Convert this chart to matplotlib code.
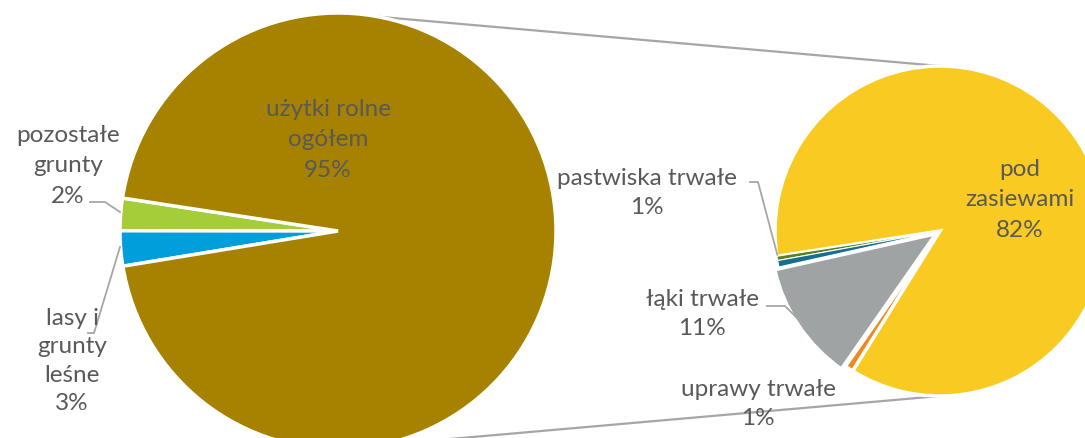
import matplotlib.pyplot as plt
import numpy as np

# share of total area, %
main_labels = ['pozostałe\ngrunty', 'lasy i\ngrunty\nleśne', 'użytki rolne\nogółem']
main_values = [2.4, 2.6, 95.0]
main_colors = ['#A5CD39', '#009FDB', '#A68200']

# breakdown of "użytki rolne" (also % of total)
sub_labels = ['', 'pastwiska trwałe', 'łąki trwałe', 'uprawy trwałe', 'pod\nzasiewami']
sub_values = [0.4, 0.6, 11.2, 0.8, 82.0]
sub_colors = ['#5B7F1F', '#166F91', '#A0A3A4', '#EE8A1F', '#F9CB22']

W, H = 1085, 439
txt = '#595959'
plt.rcParams['font.family'] = ['Lato', 'DejaVu Sans']

fig = plt.figure(figsize=(W / 100, H / 100), dpi=100)
ax = fig.add_axes([0, 0, 1, 1])

def Y(y):  # pixel row -> data y
    return H - y

c1, r1 = (338, Y(232)), 218
c2, r2 = (940, Y(232)), 165

ax.pie(main_values, colors=main_colors, center=c1, radius=r1,
       startangle=171.3, counterclock=True, frame=True,
       wedgeprops=dict(edgecolor='white', linewidth=2.5))
sub_w, _ = ax.pie(sub_values, colors=sub_colors, center=c2, radius=r2,
                  startangle=188.8, counterclock=True, frame=True,
                  explode=[0, 0, 0.03 * r2, 0, 0],
                  wedgeprops=dict(edgecolor='white', linewidth=2.5))
# thin slices: keep them visible on top of the neighbours' white edges
for w in sub_w[:2]:
    w.set_linewidth(0.8)
    w.set_zorder(3)

# connector lines between the two pies
a = np.deg2rad(79.5)
ax.plot([c1[0] + r1 * np.cos(a), c2[0]], [c1[1] + r1 * np.sin(a), c2[1] + r2],
        color='#A6A6A6', lw=1.6, zorder=0)
ax.plot([c1[0] + r1 * np.cos(-a), c2[0]], [c1[1] + r1 * np.sin(-a), c2[1] - r2],
        color='#A6A6A6', lw=1.6, zorder=0)

def pct(v):
    return f'{round(v):.0f}%'

fs = 17.5
kw = dict(ha='center', va='center', fontsize=fs, color=txt, zorder=5)
ax.text(328, Y(140), f'{main_labels[2]}\n{pct(main_values[2])}', linespacing=1.55, **kw)
ax.text(68, Y(166), f'{main_labels[0]}\n{pct(main_values[0])}', linespacing=1.55, **kw)
ax.text(72, Y(361), f'{main_labels[1]}\n{pct(main_values[1])}', linespacing=1.45, **kw)
ax.text(647, Y(193), f'{sub_labels[1]}\n{pct(sub_values[1])}', linespacing=1.45, **kw)
ax.text(702, Y(314), f'{sub_labels[2]}\n{pct(sub_values[2])}', linespacing=1.45, **kw)
ax.text(758, Y(404), f'{sub_labels[3]}\n{pct(sub_values[3])}', linespacing=1.45, **kw)
ax.text(1020, Y(200), f'{sub_labels[4]}\n{pct(sub_values[4])}', linespacing=1.55, **kw)

# leader lines
lc = '#A6A6A6'
for xs, ys in [([90, 105, 120], [203, 203, 213]),
               ([88, 94, 120], [334, 334, 248]),
               ([750, 758, 779], [183, 183, 262]),
               ([767, 785, 803], [307, 307, 325])]:
    ax.plot(xs, [Y(v) for v in ys], color=lc, lw=1.3)

ax.set_xlim(0, W)
ax.set_ylim(0, H)
ax.set_aspect('equal', adjustable='box')
ax.axis('off')

fig.savefig('out.png', dpi=100, facecolor='white')
